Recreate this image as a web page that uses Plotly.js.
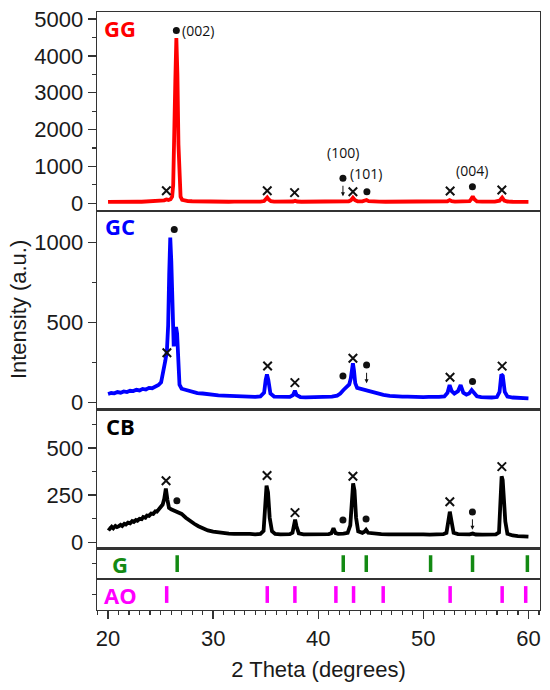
<!DOCTYPE html>
<html>
<head>
<meta charset="utf-8">
<script src="https://cdn.plot.ly/plotly-3.0.1.min.js"></script>
<style>html,body{margin:0;padding:0;background:#fff;}#chart{width:550px;height:690px;}</style>
</head>
<body>
<div id="chart"></div>
<script>
// ---- GG (red) pattern ----
const ggTheta = [20,20.4,20.8,21.2,21.6,22,22.4,22.8,23.2,23.6,24,24.4,24.8,25.1,25.35,25.55,25.75,25.95,26.1,26.2,26.3,26.4,26.5,26.6,26.7,26.8,26.9,27.05,27.3,27.6,28,28.5,29,29.5,30,30.5,31,31.5,32,32.5,33,33.5,34,34.5,34.85,35.0,35.15,35.3,35.5,35.8,36.3,36.8,37.3,37.6,37.8,38.0,38.4,39,39.5,40,40.5,41,41.5,42,42.5,42.9,43.1,43.3,43.5,43.75,44.2,44.45,44.6,44.8,45.2,45.8,46.4,47,47.5,48,48.5,49,49.5,50,50.5,51,51.5,52,52.3,52.5,52.7,53,53.5,54,54.4,54.55,54.7,54.85,55.1,55.6,56.2,56.8,57.25,57.5,57.7,58,58.5,59,59.5,60];
const ggIntensity = [38,42,36,44,40,45,39,46,42,48,44,50,55,62,80,105,90,110,180,500,1500,3300,4480,3500,1600,500,180,95,70,60,55,50,48,45,46,43,44,41,43,40,42,40,43,45,60,110,155,100,55,44,42,40,42,48,70,48,41,40,42,39,41,40,42,43,46,55,80,150,85,55,52,62,90,60,46,43,41,40,42,40,41,39,40,41,42,40,41,44,55,85,55,44,42,45,55,110,185,110,52,44,42,44,70,155,75,48,42,40,41,40];

// ---- GC (blue) pattern ----
const gcTheta = [20,20.3,20.6,20.9,21.2,21.5,21.8,22.1,22.4,22.7,23.0,23.3,23.6,23.9,24.2,24.5,24.8,25.05,25.25,25.45,25.6,25.72,25.82,25.92,26.02,26.12,26.25,26.35,26.47,26.57,26.67,26.8,27.0,27.3,27.6,28,28.5,29,29.5,30,30.5,31,31.5,32,32.5,33,33.5,34,34.5,34.85,35.0,35.12,35.25,35.45,35.8,36.3,36.8,37.3,37.6,37.78,37.95,38.3,38.8,39.3,39.8,40.3,40.8,41.3,41.8,42.1,42.4,42.7,42.95,43.1,43.22,43.3,43.4,43.52,43.7,44.0,44.4,44.8,45.3,45.8,46.2,46.8,47.4,48,48.5,49,49.5,50,50.5,51,51.5,52,52.3,52.5,52.7,52.95,53.3,53.55,53.8,54.1,54.35,54.6,54.85,55.1,55.5,56,56.5,57,57.25,57.42,57.56,57.75,58.0,58.5,59,59.5,60];
const gcIntensity = [52,58,56,64,60,68,64,72,70,78,74,84,80,90,88,98,108,125,180,260,320,480,800,1030,880,560,350,420,470,430,240,110,85,80,72,66,58,55,50,47,44,42,40,38,37,35,36,34,37,60,140,175,140,55,36,34,32,34,45,72,45,33,31,32,30,32,33,36,42,55,77,100,112,150,230,244,200,120,90,84,78,72,62,52,46,40,36,35,36,34,35,33,34,33,34,37,60,108,70,55,70,108,60,48,55,77,55,38,32,30,30,33,65,175,165,65,36,30,28,27,25];

// ---- CB (black) pattern ----
const cbTheta = [20,20.15,20.35,20.5,20.7,20.85,21.0,21.2,21.35,21.55,21.7,21.9,22.1,22.3,22.45,22.65,22.8,23.0,23.2,23.35,23.55,23.7,23.9,24.1,24.3,24.5,24.65,24.85,25.0,25.2,25.35,25.5,25.65,25.8,26.0,26.3,26.6,27.0,27.4,27.8,28.2,28.6,29.0,29.5,30.0,30.5,31,31.5,32,32.5,33,33.5,34,34.5,34.8,34.95,35.08,35.22,35.38,35.6,35.9,36.4,36.9,37.3,37.55,37.7,37.8,37.93,38.15,38.6,39.2,39.8,40.4,41.0,41.25,41.45,41.65,41.9,42.4,42.8,43.05,43.2,43.32,43.45,43.6,43.8,44.2,44.4,44.55,44.75,45.3,46,46.7,47.4,48,48.7,49.4,50,50.6,51.3,51.9,52.2,52.37,52.52,52.67,52.88,53.3,53.9,54.4,54.7,55.0,55.6,56.3,56.9,57.2,57.35,57.45,57.55,57.65,57.8,58.0,58.5,59,59.5,60];
const cbIntensity = [76,70,82,74,86,80,84,92,86,98,94,104,100,112,108,118,114,124,122,134,130,142,140,152,150,164,162,176,180,200,230,285,225,182,175,168,158,150,130,112,98,85,73,63,56,51,47,46,44,45,43,44,42,44,60,180,300,265,130,58,44,42,41,43,50,95,120,85,47,42,41,42,40,43,48,74,48,44,46,50,90,215,312,275,130,58,50,56,66,50,45,43,42,43,41,42,41,42,40,42,43,50,120,162,115,50,43,41,42,46,41,40,40,42,52,210,350,330,250,110,45,36,33,31,30];

// ---- phase symbols ----
const ggCrossTheta = [25.55,35.15,37.75,43.3,52.55,57.47];
const ggCrossY = [342,342,288,315,334,361];
const ggDotTheta = [26.5,42.35,44.63,54.67];
const ggDotY = [4690,680,315,451];
const gcCrossTheta = [25.6,35.18,37.78,43.3,52.54,57.5];
const gcCrossY = [310,227,123,275,157,226];
const gcDotTheta = [26.3,42.35,44.6,54.68];
const gcDotY = [1081,164,233,130];
const cbCrossTheta = [25.52,35.13,37.79,43.3,52.52,57.47];
const cbCrossY = [326,354,157,350,215,401];
const cbDotTheta = [26.55,42.35,44.55,54.67];
const cbDotY = [220,118,123,160];

// ---- reference patterns ----
const graphiteRef = [26.58,42.38,44.57,50.69,54.68,59.9];
const aluminaRef = [25.58,35.15,37.78,41.68,43.36,46.18,52.55,57.5,59.74];

// ---- labels ----
const panelNames = ['GG','GC','CB','G','AO'];
const hklLabels = ['(002)','(100)','(101)','(004)'];
const xTitle = '2 Theta (degrees)';
const yTitle = 'Intensity (a.u.)';

const RED='#ff0000', BLUE='#0000ff', BLK='#000000', GRN='#138a13', MAG='#ff00ff';
const INK='#111111', AX='#333333';

function curve(x,y,c,xa,ya){return {x:x,y:y,xaxis:xa,yaxis:ya,type:'scatter',mode:'lines',line:{color:c,width:3.8},hoverinfo:'skip'};}
function crosses(x,y,xa,ya){return {x:x,y:y,xaxis:xa,yaxis:ya,type:'scatter',mode:'markers',marker:{symbol:'x-thin',size:8.5,line:{width:2,color:INK}},hoverinfo:'skip'};}
function dots(x,y,xa,ya){return {x:x,y:y,xaxis:xa,yaxis:ya,type:'scatter',mode:'markers',marker:{symbol:'circle',size:7,color:INK},hoverinfo:'skip'};}
function refBars(x,c,xa,ya){return {x:x,y:x.map(()=>0),xaxis:xa,yaxis:ya,type:'scatter',mode:'markers',marker:{symbol:'line-ns',size:12,line:{width:3.5,color:c}},hoverinfo:'skip'};}

const data = [
  curve(ggTheta,ggIntensity,RED,'x5','y5'),
  curve(gcTheta,gcIntensity,BLUE,'x4','y4'),
  curve(cbTheta,cbIntensity,BLK,'x3','y3'),
  crosses(ggCrossTheta,ggCrossY,'x5','y5'), dots(ggDotTheta,ggDotY,'x5','y5'),
  crosses(gcCrossTheta,gcCrossY,'x4','y4'), dots(gcDotTheta,gcDotY,'x4','y4'),
  crosses(cbCrossTheta,cbCrossY,'x3','y3'), dots(cbDotTheta,cbDotY,'x3','y3'),
  refBars(graphiteRef,GRN,'x2','y2'),
  refBars(aluminaRef,MAG,'x','y')
];

const tickFont = {family:'Liberation Sans, Arial, sans-serif', size:22, color:'#1a1a1a'};
function yax(dom,anc,rng,dt,mdt){
  return {domain:dom, range:rng, dtick:dt, tick0:0, anchor:anc, showline:true, mirror:true, linecolor:AX, linewidth:1.3,
    ticks:'outside', ticklen:8, tickwidth:1.3, tickcolor:AX, showgrid:false, zeroline:false, tickfont:tickFont,
    minor:{dtick:mdt, ticks:'outside', ticklen:4, tickwidth:1.2, tickcolor:AX, showgrid:false}};
}
function refAx(dom,anc){
  return {domain:dom, range:[-1,1], anchor:anc, showline:true, mirror:true, linecolor:AX, linewidth:1.3,
    tickvals:[0], ticks:'outside', ticklen:4, tickwidth:1.2, tickcolor:AX, showticklabels:false, showgrid:false, zeroline:false};
}
function xsub(anc){
  return {matches:'x', anchor:anc, showline:true, mirror:true, linecolor:AX, linewidth:1.3, ticks:'', showticklabels:false, showgrid:false, zeroline:false};
}

const lblFont = (c)=>({family:'Open Sans, sans-serif', size:22, color:c, weight:'bold'});
const hklFont = {family:'Open Sans, sans-serif', size:14, color:INK};
const lx = 0.052;

const layout = {
  width:550, height:690,
  margin:{l:97, r:10, t:12, b:80},
  paper_bgcolor:'#fff', plot_bgcolor:'#fff',
  showlegend:false,
  font:{family:'Liberation Sans, Arial, sans-serif', size:22, color:'#1a1a1a'},
  xaxis:{range:[18.95,61.1], anchor:'y', dtick:10, tick0:0, showline:true, mirror:true, linecolor:AX, linewidth:1.3,
    ticks:'outside', ticklen:8, tickwidth:1.3, tickcolor:AX, showgrid:false, zeroline:false, tickfont:tickFont,
    minor:{dtick:1, ticks:'outside', ticklen:4, tickwidth:1.2, tickcolor:AX, showgrid:false},
    title:{text:xTitle, font:{family:'Liberation Sans, Arial, sans-serif', size:22, color:'#1a1a1a'}, standoff:12}},
  xaxis2:xsub('y2'), xaxis3:xsub('y3'), xaxis4:xsub('y4'), xaxis5:xsub('y5'),
  yaxis:refAx([0,0.0518],'x'),
  yaxis2:refAx([0.0518,0.1032],'x2'),
  yaxis3:yax([0.1032,0.335],'x3',[-32,703],250,125),
  yaxis4:yax([0.335,0.6672],'x4',[-46,1196],500,250),
  yaxis5:yax([0.6672,1],'x5',[-210,5190],1000,500),
  annotations:[
    {xref:'paper',yref:'paper',x:lx,y:0.974,xanchor:'center',yanchor:'middle',text:'<b>'+panelNames[0]+'</b>',showarrow:false,font:lblFont(RED)},
    {xref:'paper',yref:'paper',x:lx,y:0.6417,xanchor:'center',yanchor:'middle',text:'<b>'+panelNames[1]+'</b>',showarrow:false,font:lblFont(BLUE)},
    {xref:'paper',yref:'paper',x:lx,y:0.3082,xanchor:'center',yanchor:'middle',text:'<b>'+panelNames[2]+'</b>',showarrow:false,font:lblFont(BLK)},
    {xref:'paper',yref:'paper',x:lx,y:0.0769,xanchor:'center',yanchor:'middle',text:'<b>'+panelNames[3]+'</b>',showarrow:false,font:lblFont(GRN)},
    {xref:'paper',yref:'paper',x:lx,y:0.0251,xanchor:'center',yanchor:'middle',text:'<b>'+panelNames[4]+'</b>',showarrow:false,font:lblFont(MAG)},
    {xref:'x5',yref:'y5',x:ggDotTheta[0],y:ggDotY[0],xanchor:'left',xshift:4,yanchor:'middle',text:hklLabels[0],showarrow:false,font:hklFont},
    {xref:'x5',yref:'y5',x:42.35,y:1367,xanchor:'center',yanchor:'middle',text:hklLabels[1],showarrow:false,font:hklFont},
    {xref:'x5',yref:'y5',x:44.55,y:796,xanchor:'center',yanchor:'middle',text:hklLabels[2],showarrow:false,font:hklFont},
    {xref:'x5',yref:'y5',x:54.67,y:886,xanchor:'center',yanchor:'middle',text:hklLabels[3],showarrow:false,font:hklFont},
    {xref:'x5',yref:'y5',x:42.35,y:190,ax:0,ay:-12,text:'',showarrow:true,arrowhead:2,arrowsize:0.8,arrowwidth:1,arrowcolor:INK},
    {xref:'x4',yref:'y4',x:44.6,y:119,ax:0,ay:-12,text:'',showarrow:true,arrowhead:2,arrowsize:0.8,arrowwidth:1,arrowcolor:INK},
    {xref:'x3',yref:'y3',x:54.67,y:66,ax:0,ay:-12,text:'',showarrow:true,arrowhead:2,arrowsize:0.8,arrowwidth:1,arrowcolor:INK},
    {xref:'paper',yref:'paper',x:-0.1754,y:0.502,xanchor:'center',yanchor:'middle',textangle:-90,text:yTitle,showarrow:false,
      font:{family:'Liberation Sans, Arial, sans-serif', size:22, color:'#1a1a1a'}}
  ]
};

Plotly.newPlot('chart', data, layout, {displayModeBar:false, staticPlot:true});
</script>
</body>
</html>
